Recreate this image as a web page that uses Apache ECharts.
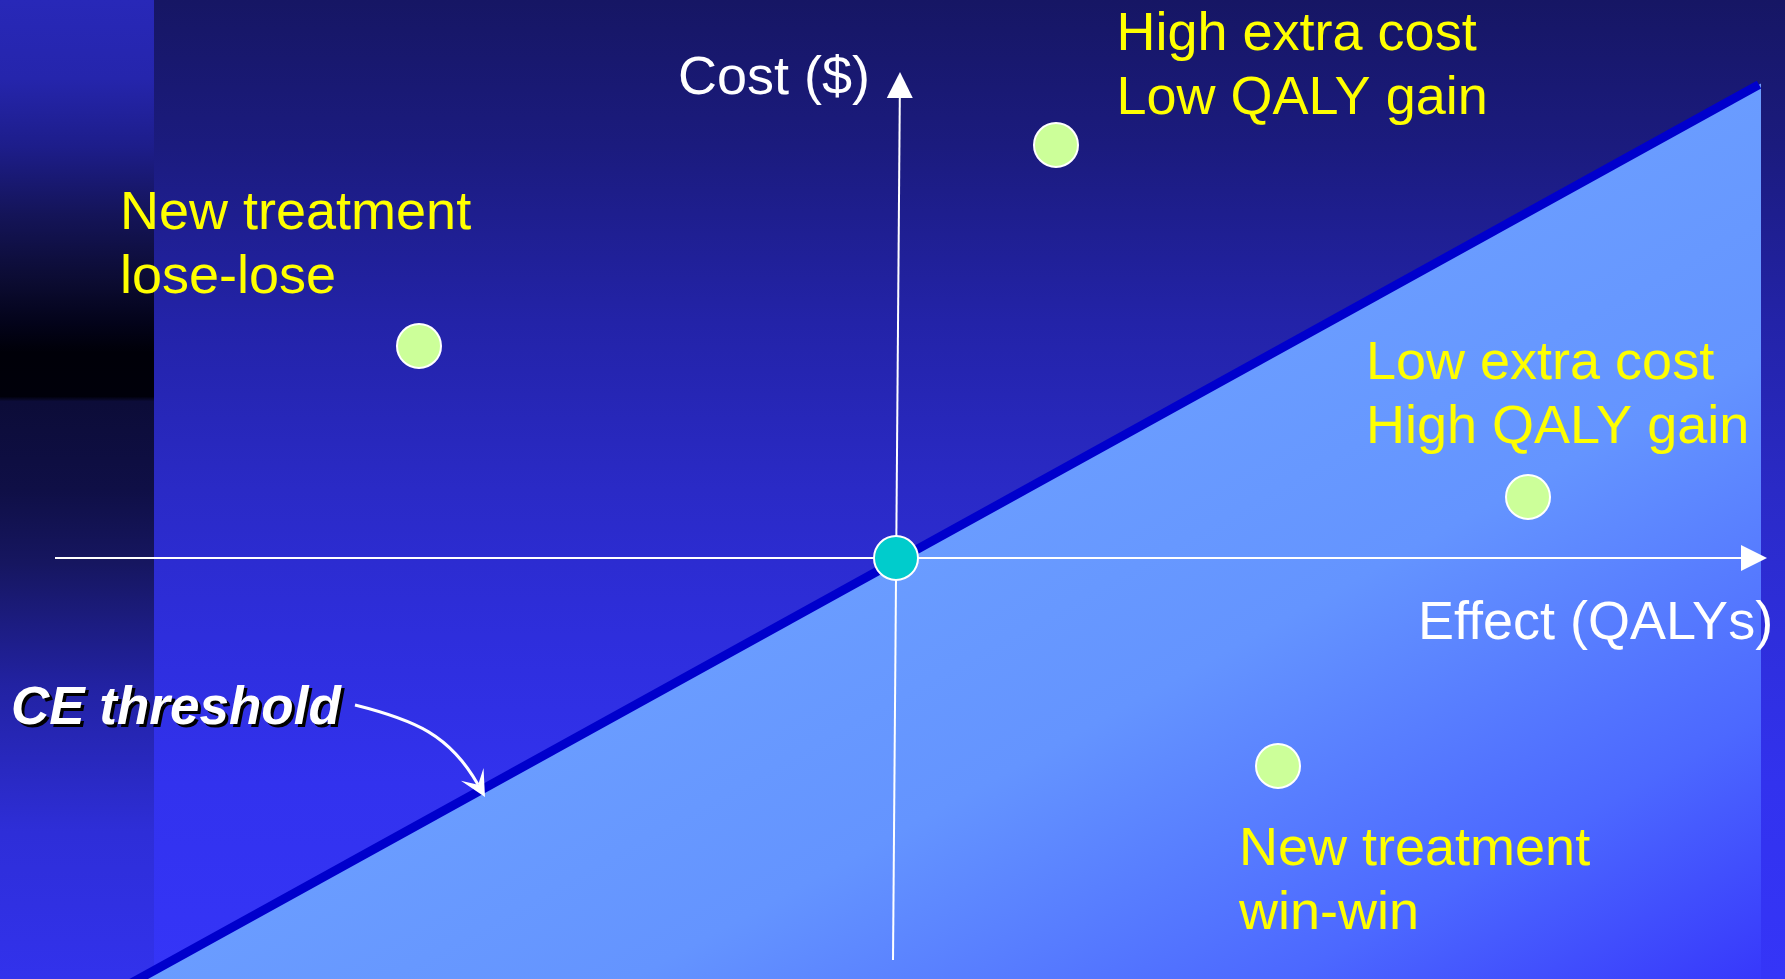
<!DOCTYPE html>
<html>
<head>
<meta charset="utf-8">
<style>
html,body{margin:0;padding:0;background:#161664;overflow:hidden;}
#chart{width:1785px;height:979px;}
</style>
<script src="https://cdn.jsdelivr.net/npm/echarts@6/dist/echarts.min.js"></script>
</head>
<body>
<div id="chart"></div>
<script>
// ---------------- data (Effect = incremental QALYs, Cost = incremental $; comparator at origin) ----------------
const effectExtent = [-8.96, 8.89];
const costExtent = [-4.21, 5.58];

const pointNames = ['Comparator', 'New treatment lose-lose', 'High extra cost, low QALY gain', 'Low extra cost, high QALY gain', 'New treatment win-win'];
const pointEffect = [0, -4.77, 1.60, 6.32, 3.82];
const pointCost = [0, 2.12, 4.13, 0.61, -2.08];

const thresholdEffect = [-7.7, 8.63];
const thresholdCost = [-4.28, 4.734];

const regionEffect = [-7.75, 8.65, 8.65];
const regionCost = [-4.31, 4.745, -4.31];

const effectAxisEnds = [-8.41, 8.71];   // effect axis drawn along cost = 0
const costAxisEnds = [-4.02, 4.86];     // cost axis ends
const costAxisEffectAt = [-0.03, 0.04]; // effect value at bottom / top of cost axis

const labelTexts = ['New treatment\nlose-lose', 'High extra cost\nLow QALY gain', 'Low extra cost\nHigh QALY gain', 'New treatment\nwin-win', 'Cost ($)', 'Effect (QALYs)', 'CE threshold'];
const labelKinds = ['quadrant', 'quadrant', 'quadrant', 'quadrant', 'axis', 'axis', 'threshold'];
const labelEffect = [-7.76, 2.205, 4.70, 3.43, -2.18, 5.22, -8.85];
const labelCost = [3.755, 5.545, 2.255, -2.605, 5.105, -0.345, -1.195];

const ceArrowEffect = [-5.41, -4.81, -4.46, -4.11];
const ceArrowCost = [-1.47, -1.62, -1.77, -2.39];

// ---------------- chart ----------------
const FONT = '"Liberation Sans", Arial, Helvetica, sans-serif';
const chart = echarts.init(document.getElementById('chart'), null, {renderer: 'canvas'});

const labelStyles = {
  quadrant: {fill: '#ffff00', font: 'normal 54px ' + FONT},
  axis: {fill: '#ffffff', font: 'normal 54px ' + FONT},
  threshold: {fill: '#ffffff', font: 'italic bold 53px ' + FONT, shadow: true}
};

function renderRegion(params, api) {
  const a = api.coord([api.value(0), api.value(1)]);
  const b = api.coord([api.value(2), api.value(3)]);
  const c = api.coord([api.value(4), api.value(5)]);
  // gradient perpendicular to threshold edge a-b, running toward corner c
  const dx = b[0] - a[0], dy = b[1] - a[1];
  const len2 = dx * dx + dy * dy;
  const t = ((c[0] - a[0]) * dx + (c[1] - a[1]) * dy) / len2;
  const f = [a[0] + t * dx, a[1] + t * dy];
  return {
    type: 'polygon',
    shape: {points: [a, b, c]},
    style: {
      fill: new echarts.graphic.LinearGradient(f[0], f[1], c[0], c[1], [
        {offset: 0, color: '#6a9cff'},
        {offset: 0.3, color: '#6494ff'},
        {offset: 0.7, color: '#4c68ff'},
        {offset: 1, color: '#3636fb'}
      ], true)
    }
  };
}

function renderAxis(params, api) {
  const a = api.coord([api.value(0), api.value(1)]);
  const b = api.coord([api.value(2), api.value(3)]);
  const dx = b[0] - a[0], dy = b[1] - a[1];
  const len = Math.hypot(dx, dy);
  const ux = dx / len, uy = dy / len, nx = -uy, ny = ux;
  const L = 26, W = 13;
  const base = [b[0] - ux * L, b[1] - uy * L];
  return {
    type: 'group',
    children: [
      {type: 'line', shape: {x1: a[0], y1: a[1], x2: base[0] + ux * 2, y2: base[1] + uy * 2}, style: {stroke: '#ffffff', lineWidth: 2}},
      {type: 'polygon', shape: {points: [[b[0], b[1]], [base[0] + nx * W, base[1] + ny * W], [base[0] - nx * W, base[1] - ny * W]]}, style: {fill: '#ffffff'}}
    ]
  };
}

function renderCeArrow(params, api) {
  const p = [0, 1, 2, 3].map(i => api.coord([api.value(2 * i), api.value(2 * i + 1)]));
  const tip = p[3];
  const dx = p[3][0] - p[2][0], dy = p[3][1] - p[2][1];
  const len = Math.hypot(dx, dy);
  const ux = dx / len, uy = dy / len, nx = -uy, ny = ux;
  const L = 26, W = 13, notch = 14;
  const back = [tip[0] - ux * L, tip[1] - uy * L];
  const n = [tip[0] - ux * notch, tip[1] - uy * notch];
  return {
    type: 'group',
    children: [
      {type: 'bezierCurve', shape: {x1: p[0][0], y1: p[0][1], cpx1: p[1][0], cpy1: p[1][1], cpx2: p[2][0], cpy2: p[2][1], x2: n[0], y2: n[1]},
       style: {stroke: '#ffffff', lineWidth: 3, fill: null}},
      {type: 'polygon', shape: {points: [tip, [back[0] + nx * W, back[1] + ny * W], n, [back[0] - nx * W, back[1] - ny * W]]},
       style: {fill: '#ffffff'}}
    ]
  };
}

function renderLabel(params, api) {
  const i = params.dataIndex;
  const p = api.coord([api.value(0), api.value(1)]);
  const st = labelStyles[labelKinds[i]];
  const children = [];
  if (st.shadow) {
    children.push({type: 'text', x: p[0] + 3, y: p[1] + 3,
      style: {text: labelTexts[i], fill: '#000000', font: st.font, lineHeight: 64, align: 'left', verticalAlign: 'top'}});
  }
  children.push({type: 'text', x: p[0], y: p[1],
    style: {text: labelTexts[i], fill: st.fill, font: st.font, lineHeight: 64, align: 'left', verticalAlign: 'top'}});
  return {type: 'group', children: children};
}

const option = {
  animation: false,
  graphic: [
    {type: 'rect', silent: true, z: -10, shape: {x: 0, y: 0, width: 1785, height: 979},
     style: {fill: new echarts.graphic.LinearGradient(0, 0, 0, 1, [
       {offset: 0, color: '#161664'},
       {offset: 0.15, color: '#1b1b7e'},
       {offset: 0.33, color: '#2323a8'},
       {offset: 0.5, color: '#2a2ac6'},
       {offset: 0.65, color: '#2e2edc'},
       {offset: 0.8, color: '#3232ee'},
       {offset: 1, color: '#3535f8'}
     ])}},
    {type: 'rect', silent: true, z: -9, shape: {x: 0, y: 0, width: 154, height: 979},
     style: {fill: new echarts.graphic.LinearGradient(0, 0, 0, 1, [
       {offset: 0, color: '#2828b8'},
       {offset: 0.08, color: '#2525ac'},
       {offset: 0.15, color: '#1d1d8a'},
       {offset: 0.22, color: '#141458'},
       {offset: 0.29, color: '#0b0b30'},
       {offset: 0.33, color: '#03031a'},
       {offset: 0.36, color: '#000008'},
       {offset: 0.405, color: '#00000a'},
       {offset: 0.41, color: '#0c0c38'},
       {offset: 0.5, color: '#0f0f46'},
       {offset: 0.575, color: '#161660'},
       {offset: 0.7, color: '#2222a2'},
       {offset: 0.85, color: '#2e2ed8'},
       {offset: 1, color: '#3232ec'}
     ])}}
  ],
  grid: {left: 0, right: 0, top: 0, bottom: 0, containLabel: false},
  xAxis: {type: 'value', name: 'Effect (QALYs)', min: effectExtent[0], max: effectExtent[1], show: false},
  yAxis: {type: 'value', name: 'Cost ($)', min: costExtent[0], max: costExtent[1], show: false},
  series: [
    {
      name: 'Below threshold', type: 'custom', silent: true, z: 1, clip: false,
      renderItem: renderRegion,
      data: [[regionEffect[0], regionCost[0], regionEffect[1], regionCost[1], regionEffect[2], regionCost[2]]]
    },
    {
      name: 'CE threshold', type: 'line', silent: true, z: 2, symbol: 'none',
      lineStyle: {color: '#0000cc', width: 9},
      data: thresholdEffect.map((x, i) => [x, thresholdCost[i]])
    },
    {
      name: 'Axes', type: 'custom', silent: true, z: 3, clip: false,
      renderItem: renderAxis,
      data: [
        [effectAxisEnds[0], 0, effectAxisEnds[1], 0],
        [costAxisEffectAt[0], costAxisEnds[0], costAxisEffectAt[1], costAxisEnds[1]]
      ]
    },
    {
      name: 'CE arrow', type: 'custom', silent: true, z: 3, clip: false,
      renderItem: renderCeArrow,
      data: [[ceArrowEffect[0], ceArrowCost[0], ceArrowEffect[1], ceArrowCost[1], ceArrowEffect[2], ceArrowCost[2], ceArrowEffect[3], ceArrowCost[3]]]
    },
    {
      name: pointNames[0], type: 'scatter', z: 4, symbolSize: 44,
      itemStyle: {color: '#00cccc', borderColor: '#ffffff', borderWidth: 2, opacity: 1},
      data: [[pointEffect[0], pointCost[0]]]
    },
    {
      name: 'New treatment', type: 'scatter', z: 4, symbolSize: 44,
      itemStyle: {color: '#ccff99', borderColor: '#ffffff', borderWidth: 2, opacity: 1},
      data: pointEffect.slice(1).map((x, i) => ({name: pointNames[i + 1], value: [x, pointCost[i + 1]]}))
    },
    {
      name: 'Labels', type: 'custom', silent: true, z: 5, clip: false,
      renderItem: renderLabel,
      data: labelEffect.map((x, i) => [x, labelCost[i]])
    }
  ]
};
chart.setOption(option);
</script>
</body>
</html>
